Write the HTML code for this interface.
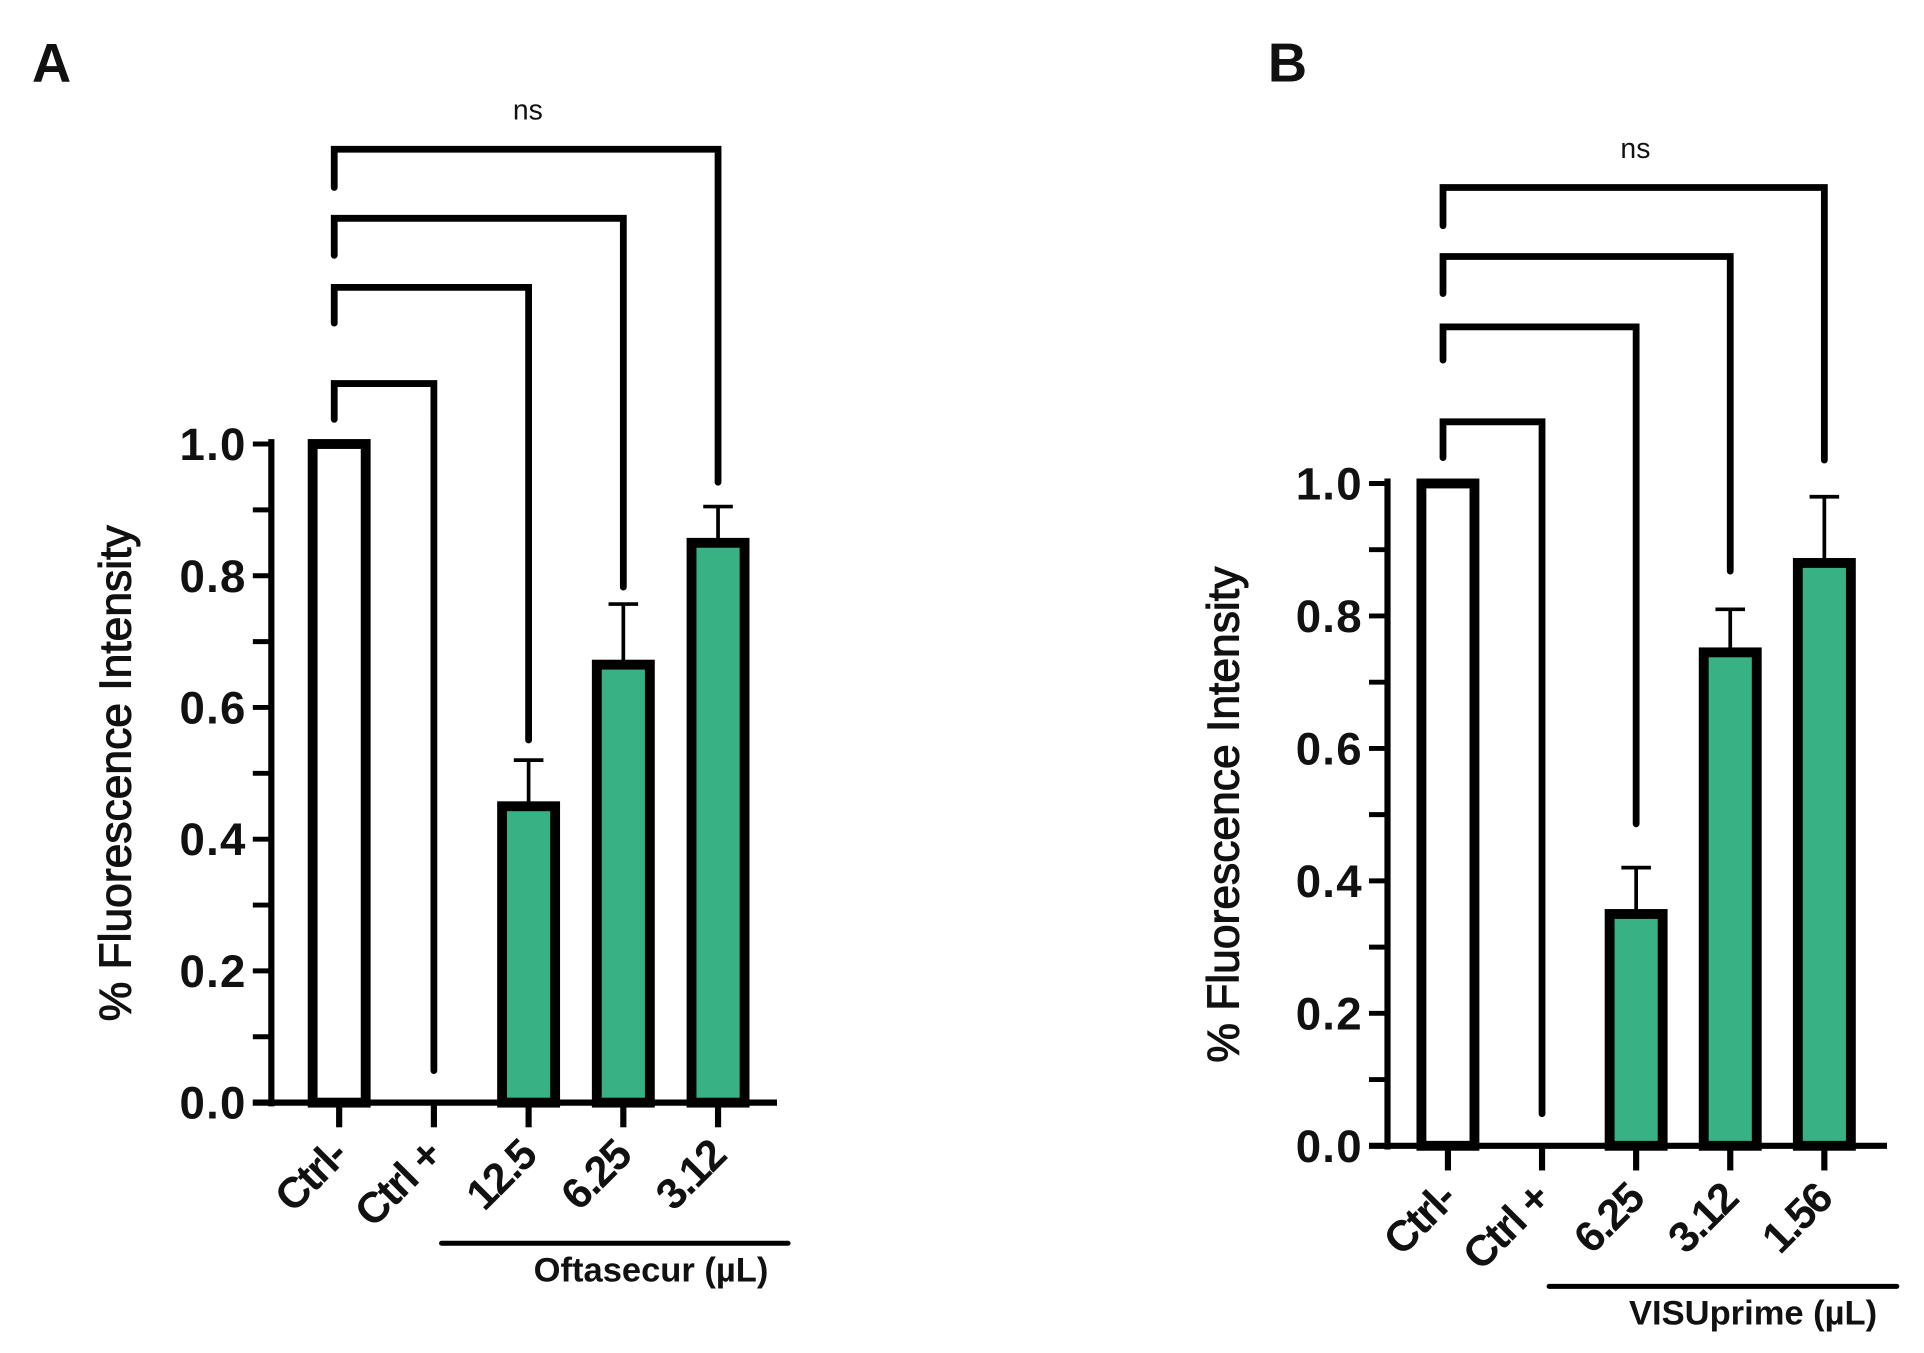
<!DOCTYPE html>
<html><head><meta charset="utf-8"><style>
html,body{margin:0;padding:0;background:#fff;}
svg{display:block;}
text{font-family:"Liberation Sans",Arial,sans-serif;fill:#111;}
</style></head><body>
<svg id="chart" width="1924" height="1353" viewBox="0 0 1560 1097" preserveAspectRatio="none" xmlns="http://www.w3.org/2000/svg"></svg>
<script>
// Panel A data
const catsA = ["Ctrl-","Ctrl +","12.5","6.25","3.12"];
const valsA = [1.0, 0, 0.45, 0.665, 0.85];
const errsA = [0, 0, 0.52, 0.757, 0.905];
// Panel B data
const catsB = ["Ctrl-","Ctrl +","6.25","3.12","1.56"];
const valsB = [1.0, 0, 0.35, 0.745, 0.88];
const errsB = [0, 0, 0.42, 0.81, 0.98];
const yTicks = [0,0.2,0.4,0.6,0.8,1.0];
const yTickLabels = ["0.0","0.2","0.4","0.6","0.8","1.0"];

const NS="http://www.w3.org/2000/svg";
const svg=document.getElementById('chart');
function mk(tag,attrs,parent){const e=document.createElementNS(NS,tag);for(const k in attrs)e.setAttribute(k,attrs[k]);(parent||svg).appendChild(e);return e;}

function panel(cfg){
  const g=mk('g',{});
  
  
  const y=v=>cfg.y0-(cfg.y0-cfg.y1)*v;
  const x=i=>cfg.x0+cfg.step*i;
  const L=mk('text',{x:cfg.lx,y:66,'font-size':44,'font-weight':'bold'},g);L.textContent=cfg.letter;
  
  
  const ya=mk('line',{x1:cfg.ax,y1:y(1)-4,x2:cfg.ax,y2:cfg.y0+3,stroke:'#000','stroke-width':5},g);
  
  
  for(let k=0;k<=10;k++){
    const v=k/10;
    mk('line',{x1:cfg.ax-15,y1:y(v),x2:cfg.ax,y2:y(v),stroke:'#000','stroke-width':4},g);
  }
  yTicks.forEach((v,i)=>{
    const t=mk('text',{x:cfg.ax-20,y:y(v)+13,'font-size':37,'font-weight':'bold','text-anchor':'end','letter-spacing':'1'},g);
    t.textContent=yTickLabels[i];
    
    
  });
  const yt=mk('text',{x:0,y:0,'font-size':36,'text-anchor':'middle',stroke:'#111','stroke-width':0.9,transform:`translate(${cfg.tx},${(y(0)+y(1))/2}) rotate(-90)`},g);
  yt.textContent='% Fluorescence Intensity';
  
  
  const xa=mk('line',{x1:cfg.ax-15,y1:cfg.y0,x2:cfg.xend,y2:cfg.y0,stroke:'#000','stroke-width':5},g);
  
  
  cfg.cats.forEach((c,i)=>{
    mk('line',{x1:x(i),y1:cfg.y0,x2:x(i),y2:cfg.y0+20,stroke:'#000','stroke-width':5},g);
    const t=mk('text',{x:0,y:0,'font-size':35,'font-weight':'bold','text-anchor':'end','letter-spacing':'-1.5',transform:`translate(${x(i)+8},${cfg.y0+45}) rotate(-45)`},g);
    t.textContent=c;
    
    
  });
  const bw=43;
  cfg.vals.forEach((v,i)=>{
    if(v<=0)return;
    if(cfg.errs[i]>v){
      const e=mk('line',{x1:x(i),y1:y(v),x2:x(i),y2:y(cfg.errs[i]),stroke:'#000','stroke-width':3},g);
      
      
      mk('line',{x1:x(i)-12,y1:y(cfg.errs[i]),x2:x(i)+12,y2:y(cfg.errs[i]),stroke:'#000','stroke-width':3},g);
    }
    const r=mk('rect',{x:x(i)-bw/2,y:y(v),width:bw,height:y(0)-y(v),fill:i<2?'#fff':'#38b284',stroke:'#000','stroke-width':8},g);
    
    
  });
  cfg.brackets.forEach((b,j)=>{
    const p=mk('path',{d:`M${x(0)-4},${b.ly} V${b.top} H${x(j+1)} V${b.ry}`,fill:'none',stroke:'#000','stroke-width':5.5,'stroke-linecap':'round'},g);
    
    
  });
  const ns=mk('text',{x:cfg.nsx,y:cfg.nsy,'font-size':23,'text-anchor':'middle'},g);ns.textContent='ns';
  
  
  const gl=mk('line',{x1:cfg.gx1,y1:cfg.gy,x2:cfg.gx2,y2:cfg.gy,stroke:'#000','stroke-width':4,'stroke-linecap':'round'},g);
  
  
  const gt=mk('text',{x:cfg.gx2-16,y:cfg.gy+31,'font-size':28,'font-weight':'bold','text-anchor':'end'},g);
  gt.textContent=cfg.group;
  
  
}

panel({name:'panel-a',letter:'A',lx:26,ax:220,y0:894,y1:360,x0:275,step:76.8,xend:630,tx:106,
  cats:catsA,vals:valsA,errs:errsA,
  brackets:[{ly:340,top:311,ry:868},{ly:262,top:233,ry:600},{ly:207,top:177,ry:476},{ly:152,top:121,ry:391}],
  nsx:428,nsy:97,gx1:358,gx2:639,gy:1008,group:'Oftasecur (µL)'});
panel({name:'panel-b',letter:'B',lx:1028,ax:1125,y0:929,y1:392,x0:1174,step:76.3,xend:1530,tx:1004,
  cats:catsB,vals:valsB,errs:errsB,
  brackets:[{ly:371,top:342,ry:903},{ly:292,top:265,ry:668},{ly:238,top:208,ry:463},{ly:183,top:152,ry:373}],
  nsx:1326,nsy:128,gx1:1256,gx2:1538,gy:1043,group:'VISUprime (µL)'});
</script>
</body></html>
